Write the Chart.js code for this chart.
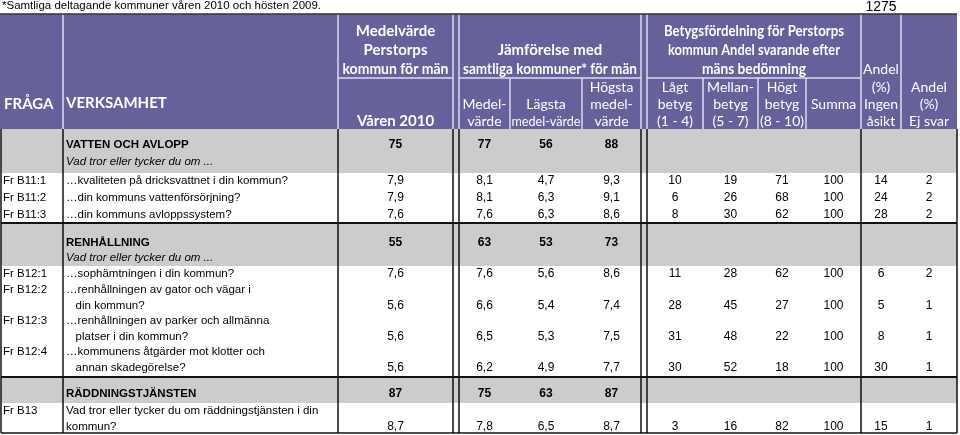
<!DOCTYPE html>
<html>
<head>
<meta charset="utf-8">
<script src="https://cdn.jsdelivr.net/npm/chart.js@4.4.0/dist/chart.umd.min.js"></script>
<style>
  html, body { margin: 0; padding: 0; background: #fff; }
  canvas { display: block; }
</style>
</head>
<body>
<canvas id="tbl" width="960" height="435"></canvas>
<script>
// ---- data ----
var sectionNames = ['VATTEN OCH AVLOPP', 'RENHÅLLNING', 'RÄDDNINGSTJÄNSTEN'];
var sectionPerstorp = [75, 55, 87];
var sectionMean = [77, 63, 75];
var sectionLow = [56, 53, 63];
var sectionHigh = [88, 73, 87];

var questionIds = ['Fr B11:1', 'Fr B11:2', 'Fr B11:3', 'Fr B12:1', 'Fr B12:2', 'Fr B12:3', 'Fr B12:4', 'Fr B13'];
var questionTexts = [
  ['…kvaliteten på dricksvattnet i din kommun?'],
  ['…din kommuns vattenförsörjning?'],
  ['…din kommuns avloppssystem?'],
  ['…sophämtningen i din kommun?'],
  ['…renhållningen av gator och vägar i', '   din kommun?'],
  ['…renhållningen av parker och allmänna', '   platser i din kommun?'],
  ['…kommunens åtgärder mot klotter och', '   annan skadegörelse?'],
  ['Vad tror eller tycker du om räddningstjänsten i din', 'kommun?']
];
var perstorp2010 = [7.9, 7.9, 7.6, 7.6, 5.6, 5.6, 5.6, 8.7];
var allMean = [8.1, 8.1, 7.6, 7.6, 6.6, 6.5, 6.2, 7.8];
var allLow = [4.7, 6.3, 6.3, 5.6, 5.4, 5.3, 4.9, 6.5];
var allHigh = [9.3, 9.1, 8.6, 8.6, 7.4, 7.5, 7.7, 8.7];
var lowGrade = [10, 6, 8, 11, 28, 31, 30, 3];
var midGrade = [19, 26, 30, 28, 45, 48, 52, 16];
var highGrade = [71, 68, 62, 62, 27, 22, 18, 82];
var sumGrade = [100, 100, 100, 100, 100, 100, 100, 100];
var noOpinion = [14, 24, 28, 6, 5, 8, 30, 15];
var noAnswer = [2, 2, 2, 2, 1, 1, 1, 1];

var footNote = '*Samtliga deltagande kommuner våren 2010 och hösten 2009.';
var respondents = '1275';

// ---- layout (table units = pixels on the 960x435 scales) ----
var edge = { left: 1, fraga: 63, verk: 338, v2010: 453, gap1: 459, medel: 510, lagsta: 582, hogsta: 641,
             gap2: 647, lagt: 703, mellan: 758, hogt: 806, summa: 861, ingen: 901, right: 957 };
var headTop = 14, headMid = 78, headBottom = 129;
var sectionBands = [
  { top: 129, bottom: 173, title: 145, sub: 162 },
  { top: 223, bottom: 266, title: 243, sub: 258 },
  { top: 377, bottom: 403, title: 394, sub: null }
];
var rowLines = [[181], [198], [215], [274], [290, 306], [321, 337], [352, 368], [411, 427]];
var sepLines = [223, 377];
var tableBottom = 433;

var PURPLE = '#64619b';
var GRAY = '#cccccc';
var HEAD_LINE = '#dcdcee';
var BODY_FONT = 'Liberation Sans, Arial, sans-serif';
var HEAD_FONT = 'Lato, Open Sans, sans-serif';

function dec(v) { return v.toFixed(1).replace('.', ','); }

var tablePlugin = {
  id: 'tablePlugin',
  afterDraw: function (chart) {
    var ctx = chart.ctx;
    var sx = chart.scales.x, sy = chart.scales.y;
    function X(v) { return sx.getPixelForValue(v); }
    function Y(v) { return sy.getPixelForValue(v); }
    function mid(a, b) { return (X(a) + X(b)) / 2; }
    function hline(x1, x2, y, col, w) {
      ctx.strokeStyle = col; ctx.lineWidth = w;
      ctx.beginPath(); ctx.moveTo(X(x1), Y(y)); ctx.lineTo(X(x2), Y(y)); ctx.stroke();
    }
    function vline(x, y1, y2, col, w) {
      ctx.strokeStyle = col; ctx.lineWidth = w;
      ctx.beginPath(); ctx.moveTo(X(x), Y(y1)); ctx.lineTo(X(x), Y(y2)); ctx.stroke();
    }
    function text(str, x, y, font, align, color, maxW) {
      ctx.font = font; ctx.textAlign = align; ctx.fillStyle = color; ctx.textBaseline = 'middle';
      if (maxW) ctx.fillText(str, x, Y(y), maxW); else ctx.fillText(str, x, Y(y));
    }

    ctx.save();
    // top notes
    text(footNote, X(2), 6, '11.5px ' + BODY_FONT, 'left', '#000');
    text(respondents, X(881), 7, '14px ' + BODY_FONT, 'center', '#000');

    // header block
    ctx.fillStyle = PURPLE;
    ctx.fillRect(X(edge.left - 1), Y(headTop), X(edge.right) - X(edge.left - 1), Y(headBottom) - Y(headTop));
    [edge.fraga, edge.verk, edge.v2010, edge.gap1, edge.hogsta, edge.gap2, edge.summa, edge.ingen].forEach(function (x) {
      vline(x, headTop, headBottom, HEAD_LINE, 1.5);
    });
    [edge.medel, edge.lagsta, edge.lagt, edge.mellan, edge.hogt].forEach(function (x) {
      vline(x, headMid, headBottom, HEAD_LINE, 1.5);
    });
    hline(edge.verk, edge.v2010, headMid, HEAD_LINE, 1.5);
    hline(edge.gap1, edge.hogsta, headMid, HEAD_LINE, 1.5);
    hline(edge.gap2, edge.summa, headMid, HEAD_LINE, 1.5);
    hline(edge.left - 1, edge.right, headTop, '#333', 1.5);

    var hf = 'bold 15px ' + HEAD_FONT;
    var W = '#ffffff';
    text('FRÅGA', X(4), 104, hf, 'left', W);
    text('VERKSAMHET', X(66), 103, hf, 'left', W);
    var c1 = mid(edge.verk, edge.v2010);
    text('Medelvärde', c1, 31, hf, 'center', W);
    text('Perstorps', c1, 50, hf, 'center', W);
    text('kommun för män', c1, 69, hf, 'center', W, 106);
    text('Våren 2010', c1, 121, hf, 'center', W);
    var c2 = mid(edge.gap1, edge.hogsta);
    text('Jämförelse med', c2, 50, hf, 'center', W);
    text('samtliga kommuner* för män', c2, 69, hf, 'center', W, 174);
    var hn = '14px ' + HEAD_FONT;
    var cm = mid(edge.gap1, edge.medel), cl = mid(edge.medel, edge.lagsta), ch = mid(edge.lagsta, edge.hogsta);
    text('Medel-', cm, 104, hn, 'center', W, 47);
    text('värde', cm, 121, hn, 'center', W, 47);
    text('Lägsta', cl, 104, hn, 'center', W, 68);
    text('medel-värde', cl, 121, hn, 'center', W, 69);
    text('Högsta', ch, 87, hn, 'center', W, 55);
    text('medel-', ch, 104, hn, 'center', W, 55);
    text('värde', ch, 121, hn, 'center', W, 55);
    var c3 = mid(edge.gap2, edge.summa);
    text('Betygsfördelning för Perstorps', c3, 31, hf, 'center', W, 180);
    text('kommun Andel svarande efter', c3, 50, hf, 'center', W, 172);
    text('mäns bedömning', c3, 69, hf, 'center', W, 104);
    var gl = mid(edge.gap2, edge.lagt), gm = mid(edge.lagt, edge.mellan), gh = mid(edge.mellan, edge.hogt), gs = mid(edge.hogt, edge.summa);
    text('Lågt', gl, 87, hn, 'center', W, 52);
    text('betyg', gl, 104, hn, 'center', W, 52);
    text('(1 - 4)', gl, 121, hn, 'center', W, 52);
    text('Mellan-', gm, 87, hn, 'center', W, 51);
    text('betyg', gm, 104, hn, 'center', W, 51);
    text('(5 - 7)', gm, 121, hn, 'center', W, 51);
    text('Högt', gh, 87, hn, 'center', W, 45);
    text('betyg', gh, 104, hn, 'center', W, 45);
    text('(8 - 10)', gh, 121, hn, 'center', W, 45);
    text('Summa', gs, 104, hn, 'center', W, 50);
    var ci = mid(edge.summa, edge.ingen), ce = mid(edge.ingen, edge.right);
    text('Andel', ci, 69, hn, 'center', W, 37);
    text('(%)', ci, 87, hn, 'center', W, 37);
    text('Ingen', ci, 104, hn, 'center', W, 37);
    text('åsikt', ci, 121, hn, 'center', W, 37);
    text('Andel', ce, 87, hn, 'center', W, 52);
    text('(%)', ce, 104, hn, 'center', W, 52);
    text('Ej svar', ce, 121, hn, 'center', W, 52);

    // body
    var valueCols = [c1, cm, cl, ch, gl, gm, gh, gs, ci, ce];
    var bf = '11.5px ' + BODY_FONT, bi = 'italic 11.5px ' + BODY_FONT;
    var nf = '12px ' + BODY_FONT, nb = 'bold 12px ' + BODY_FONT, tb = 'bold 11.5px ' + BODY_FONT;

    sectionBands.forEach(function (band, s) {
      ctx.fillStyle = GRAY;
      ctx.fillRect(X(edge.left), Y(band.top), X(edge.right) - X(edge.left), Y(band.bottom) - Y(band.top));
      text(sectionNames[s], X(66), band.title, tb, 'left', '#000');
      if (band.sub !== null) text('Vad tror eller tycker du om ...', X(66), band.sub, bi, 'left', '#000');
      var vals = [sectionPerstorp[s], sectionMean[s], sectionLow[s], sectionHigh[s]];
      vals.forEach(function (v, k) { text(String(v), valueCols[k], band.title, nb, 'center', '#000'); });
    });

    questionIds.forEach(function (id, r) {
      var ys = rowLines[r];
      var last = ys[ys.length - 1];
      text(id, X(3), ys[0], bf, 'left', '#000');
      questionTexts[r].forEach(function (line, j) { text(line, X(66), ys[j], bf, 'left', '#000'); });
      var vals = [dec(perstorp2010[r]), dec(allMean[r]), dec(allLow[r]), dec(allHigh[r]),
                  lowGrade[r], midGrade[r], highGrade[r], sumGrade[r], noOpinion[r], noAnswer[r]];
      vals.forEach(function (v, k) { text(String(v), valueCols[k], last, nf, 'center', '#000'); });
    });

    // body grid
    [edge.left, edge.fraga, edge.verk, edge.v2010, edge.gap1, edge.hogsta, edge.gap2, edge.summa, edge.right].forEach(function (x) {
      vline(x, headBottom, tableBottom, '#111', 1.5);
    });
    sepLines.forEach(function (y) { hline(edge.left, edge.right, y, '#111', 2); });
    hline(edge.left, edge.right, tableBottom, '#111', 1.5);
    ctx.restore();
  }
};

new Chart(document.getElementById('tbl'), {
  type: 'scatter',
  data: { datasets: [{ data: [], pointRadius: 0 }] },
  options: {
    responsive: false,
    animation: false,
    devicePixelRatio: 1,
    layout: { padding: 0 },
    plugins: { legend: { display: false }, tooltip: { enabled: false } },
    scales: {
      x: { type: 'linear', min: 0, max: 960, display: false },
      y: { type: 'linear', min: 0, max: 435, reverse: true, display: false }
    }
  },
  plugins: [tablePlugin]
});
</script>
</body>
</html>
